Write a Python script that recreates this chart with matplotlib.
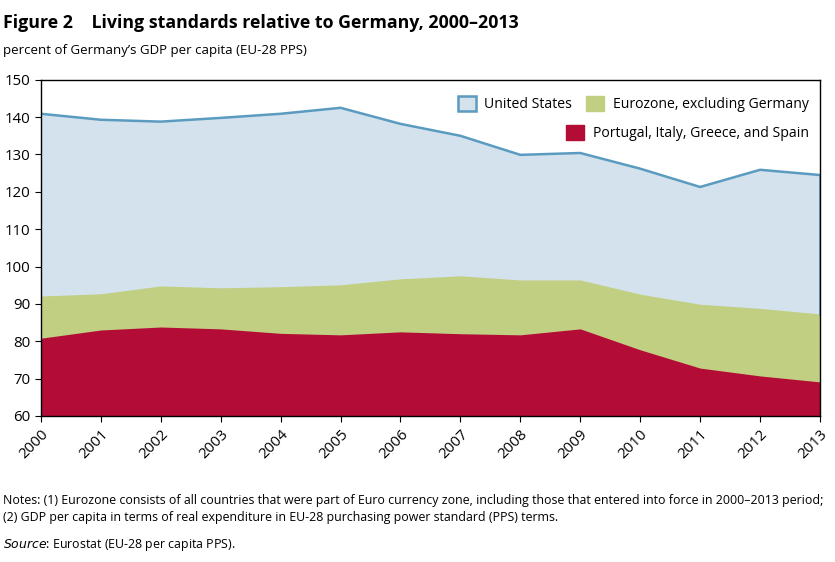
import matplotlib.pyplot as plt
from matplotlib.patches import Patch

plt.rcParams['font.family'] = ['Open Sans', 'DejaVu Sans']

years = list(range(2000, 2014))
us = [140.9, 139.3, 138.8, 139.8, 140.9, 142.5, 138.2, 135.0, 129.9, 130.4, 126.2, 121.3, 125.9, 124.5]
eurozone = [92.1, 92.7, 94.8, 94.3, 94.6, 95.1, 96.7, 97.5, 96.4, 96.4, 92.6, 89.9, 88.8, 87.3]
pigs = [80.8, 83.0, 83.8, 83.3, 82.1, 81.7, 82.5, 82.0, 81.7, 83.3, 77.7, 72.8, 70.7, 69.1]

us_fill = '#d4e2ee'
us_line = '#5b9bc0'
ez_color = '#c0cf81'
pigs_color = '#b30c36'

fig = plt.figure(figsize=(8.35, 5.62), dpi=100)
ax = fig.add_axes([0.049, 0.26, 0.933, 0.598])

ax.fill_between(years, 60, us, color=us_fill, lw=0)
ax.plot(years, us, color=us_line, lw=1.8)
ax.plot([years[-1], years[-1]], [eurozone[-1], us[-1]], color=us_line, lw=1.8)
ax.fill_between(years, 60, eurozone, color=ez_color, lw=0)
ax.fill_between(years, 60, pigs, color=pigs_color, lw=0)

ax.set_xlim(2000, 2013)
ax.set_ylim(60, 150)
ax.set_yticks(range(60, 151, 10))
ax.set_xticks(years)
ax.set_xticklabels([str(y) for y in years], rotation=45, ha='right', rotation_mode='anchor')
ax.tick_params(labelsize=10.8, length=4, color='black')
ax.tick_params(axis='x', pad=4)
for s in ax.spines.values():
    s.set_color('black')
    s.set_linewidth(1)

h1 = [Patch(facecolor=us_fill, edgecolor=us_line, lw=1.8, label='United States'),
      Patch(facecolor=ez_color, edgecolor=ez_color, label='Eurozone, excluding Germany')]
leg1 = ax.legend(handles=h1, ncol=2, loc='upper right', bbox_to_anchor=(1.0, 0.985),
                 frameon=False, fontsize=10.1, handlelength=1.3, handleheight=1.3,
                 columnspacing=1.0, handletextpad=0.6, borderaxespad=0.4)
ax.add_artist(leg1)
h2 = [Patch(facecolor=pigs_color, edgecolor=pigs_color, label='Portugal, Italy, Greece, and Spain')]
ax.legend(handles=h2, loc='upper right', bbox_to_anchor=(1.0, 0.9),
          frameon=False, fontsize=10.1, handlelength=1.3, handleheight=1.3,
          handletextpad=0.6, borderaxespad=0.4)

fig.text(0.004, 0.975, 'Figure 2    Living standards relative to Germany, 2000\u20132013',
         fontsize=12.8, fontweight='bold', va='top', ha='left')
fig.text(0.004, 0.91, 'percent of Germany\u2019s GDP per capita (EU-28 PPS)',
         fontsize=9.5, va='center', ha='left')
fig.text(0.004, 0.094,
         'Notes: (1) Eurozone consists of all countries that were part of Euro currency zone, including those that entered into force in 2000\u20132013 period;\n'
         '(2) GDP per capita in terms of real expenditure in EU-28 purchasing power standard (PPS) terms.',
         fontsize=8.9, va='center', ha='left', linespacing=1.45)
fig.text(0.004, 0.031, r'$\it{Source}$: Eurostat (EU-28 per capita PPS).', fontsize=8.9, va='center', ha='left')

fig.savefig('out.png', dpi=100)
